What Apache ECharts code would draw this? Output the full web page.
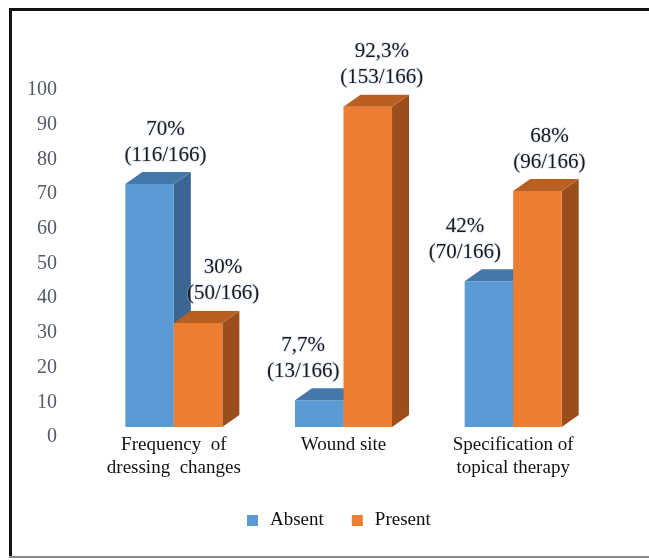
<!DOCTYPE html>
<html>
<head>
<meta charset="utf-8">
<script src="https://cdn.jsdelivr.net/npm/echarts@6/dist/echarts.min.js"></script>
<style>
  html, body { margin: 0; padding: 0; background: #fff; }
  #chart { width: 649px; height: 560px; }
</style>
</head>
<body>
<div id="chart"></div>
<script>
// data
const categories = ['Frequency  of\ndressing  changes', 'Wound site', 'Specification of\ntopical therapy'];
const absentValues = [70, 7.7, 42];
const presentValues = [30, 92.3, 68];
const absentLabels = ['70%\n(116/166)', '7,7%\n(13/166)', '42%\n(70/166)'];
const presentLabels = ['30%\n(50/166)', '92,3%\n(153/166)', '68%\n(96/166)'];
const seriesNames = ['Absent', 'Present'];

// 3d look
const DX = 17, DY = 12, LIFT = 10;
const absentNudge = [16, -16, -24];
const presentNudge = [25, 14, 12];

function bar3d(side, labels, nudge, colors) {
    return function (params, api) {
        const idx = api.value(0);
        const val = api.value(1);
        const base = api.coord([idx, 0]);
        const top = api.coord([idx, val]);
        const w = api.size([1, 0])[0] * 0.286;
        const x0 = side === 'left' ? base[0] - w : base[0];
        const x1 = x0 + w;
        const yb = base[1] - LIFT;
        const yt = top[1] - LIFT;
        return {
            type: 'group',
            children: [
                {
                    type: 'polygon',
                    shape: { points: [[x1, yt], [x1 + DX, yt - DY], [x1 + DX, yb - DY], [x1, yb]] },
                    style: { fill: colors.side }
                },
                {
                    type: 'rect',
                    shape: { x: x0, y: yt, width: w, height: yb - yt },
                    style: { fill: colors.front }
                },
                {
                    type: 'polygon',
                    shape: { points: [[x0, yt], [x0 + DX, yt - DY], [x1 + DX, yt - DY], [x1, yt]] },
                    style: { fill: colors.top }
                },
                {
                    type: 'text',
                    style: {
                        x: x0 + w / 2 + nudge[idx],
                        y: yt - DY - 4,
                        text: labels[idx],
                        align: 'center',
                        verticalAlign: 'bottom',
                        fontFamily: 'Liberation Serif',
                        fontSize: 21,
                        lineHeight: 26,
                        fill: '#1a1a1a',
                        stroke: 'rgba(170,195,230,0.45)',
                        lineWidth: 1.5
                    }
                }
            ]
        };
    };
}

let chartDiv = echarts.init(document.getElementById('chart'), null, {width: 649, height: 560});
let option = {
    backgroundColor: '#fff',
    animation: false,
    grid: {
        left: 89,
        right: 51,
        top: 90,
        bottom: 123
    },
    legend: {
        data: seriesNames,
        left: 242,
        top: 506,
        icon: 'rect',
        itemWidth: 11,
        itemHeight: 11,
        itemGap: 28,
        textStyle: {
            fontFamily: 'Liberation Serif',
            fontSize: 19,
            color: '#111',
            padding: [0, 0, 0, 7]
        }
    },
    xAxis: {
        type: 'category',
        data: categories,
        axisLine: { show: false },
        axisTick: { show: false },
        axisLabel: {
            margin: -3,
            fontFamily: 'Liberation Serif',
            fontSize: 19,
            lineHeight: 23,
            color: '#111',
            interval: 0
        }
    },
    yAxis: {
        type: 'value',
        min: 0,
        max: 100,
        interval: 10,
        axisLine: { show: false },
        axisTick: { show: false },
        splitLine: { show: false },
        axisLabel: {
            margin: 32,
            fontFamily: 'Liberation Serif',
            fontSize: 20,
            color: '#505a68'
        }
    },
    graphic: [
        { type: 'rect', shape: { x: 9, y: 8, width: 640, height: 3 }, style: { fill: '#111' } },
        { type: 'rect', shape: { x: 9, y: 8, width: 3, height: 550 }, style: { fill: '#111' } },
        { type: 'rect', shape: { x: 9, y: 556, width: 640, height: 2 }, style: { fill: '#888' } }
    ],
    series: [
        {
            name: 'Absent',
            type: 'custom',
            itemStyle: { color: '#5b9bd5' },
            renderItem: bar3d('left', absentLabels, absentNudge, { front: '#5b9bd5', side: '#3c6692', top: '#4677a9' }),
            data: absentValues.map((v, i) => [i, v])
        },
        {
            name: 'Present',
            type: 'custom',
            itemStyle: { color: '#ed7d31' },
            renderItem: bar3d('right', presentLabels, presentNudge, { front: '#ed7d31', side: '#9b4e1c', top: '#b95f22' }),
            data: presentValues.map((v, i) => [i, v])
        }
    ]
};
chartDiv.setOption(option);
</script>
</body>
</html>
